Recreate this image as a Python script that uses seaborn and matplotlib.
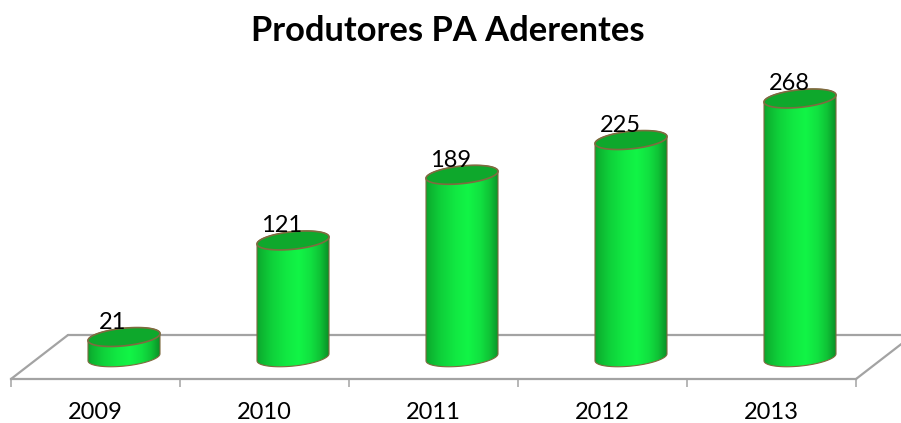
import numpy as np
import pandas as pd
import matplotlib
matplotlib.use("Agg")
import matplotlib.pyplot as plt
from matplotlib.colors import LinearSegmentedColormap
from matplotlib.patches import Polygon
from matplotlib.ticker import FixedLocator
from matplotlib.transforms import ScaledTranslation
import seaborn as sns

years = ["2009", "2010", "2011", "2012", "2013"]
produtores = [21, 121, 189, 225, 268]
title = "Produtores PA Aderentes"

W, H, DPI = 901, 423, 100
sns.set_theme(style="white")
plt.rcParams["font.family"] = ["Lato", "DejaVu Sans"]

fig = plt.figure(figsize=(W / DPI, H / DPI), dpi=DPI, facecolor="white")
# Axes: front edge of the floor is the x axis
ax = fig.add_axes([11 / W, (H - 379) / H, 845 / W, 379 / H])
PX_X, PX_Y = 169.0, 0.9656          # pixels per data unit

df = pd.DataFrame({"ano": years, "produtores": produtores})
sns.barplot(data=df, x="ano", y="produtores", width=72 / PX_X, ax=ax,
            color="#12F246", saturation=1, linewidth=0)
ax.set_xlim(-0.5, 4.5)
ax.set_ylim(0, 379 / PX_Y)

# 3D depth shift of the columns relative to the axis plane
shift = ScaledTranslation(28.5 / DPI, 21.7 / DPI, fig.dpi_scale_trans)
trans = ax.transData + shift

GRID = "#A3A3A3"
dx, dy = 57 / PX_X, 44 / PX_Y
floor = dict(color=GRID, lw=1.6, clip_on=False, zorder=1, solid_capstyle="round")
ax.plot([-0.5, -0.5 + dx], [0, dy], **floor)
ax.plot([4.5, 4.5 + dx], [0, dy], **floor)
ax.plot([-0.5 + dx, 4.5 + dx], [dy, dy], **floor)

cmap = LinearSegmentedColormap.from_list(
    "cyl", [(0, "#0CA32D"), (0.06, "#0DB531"), (0.2, "#0FD03A"), (0.4, "#11E842"),
            (0.58, "#12F546"), (0.75, "#11E040"), (0.88, "#0FC236"),
            (0.96, "#0CA12C"), (1, "#0A9027")])
grad = np.linspace(0, 1, 256).reshape(1, -1)

EDGE = "#7F6B3F"
A_X = 36.0 / PX_X
B_Y = 8.8 / PX_Y
SKEW = 3.5 / PX_Y


def arc(cx, cy, t):
    return np.column_stack([cx + A_X * np.cos(t),
                            cy + B_Y * np.sin(t) + SKEW * np.cos(t)])


for bar, value in zip(list(ax.patches), produtores):
    cx = bar.get_x() + bar.get_width() / 2
    v = bar.get_height()
    bar.set_visible(False)
    lower = arc(cx, 0, np.linspace(np.pi, 2 * np.pi, 60))
    upper = arc(cx, v, np.linspace(0, np.pi, 60))
    outline = np.vstack([lower, upper])
    body = Polygon(outline, closed=True, transform=trans,
                   facecolor="none", edgecolor=EDGE, lw=0.8, zorder=3)
    ax.add_patch(body)
    im = ax.imshow(grad, extent=(cx - A_X, cx + A_X, -20, v + 20), aspect="auto",
                   cmap=cmap, zorder=2, interpolation="bilinear")
    im.set_transform(trans)
    im.set_clip_path(Polygon(outline, closed=True, transform=trans))
    top = Polygon(arc(cx, v, np.linspace(0, 2 * np.pi, 120)), closed=True,
                  transform=trans, facecolor="#0EA82C", edgecolor=EDGE,
                  lw=1.2, zorder=4)
    ax.add_patch(top)
    ax.annotate(str(value), xy=(cx, v),
                xytext=(17.5 * 0.72, 36.5 * 0.72), textcoords="offset points",
                ha="center", va="center", fontsize=17, color="black", zorder=5,
                annotation_clip=False)

ax.set_xlim(-0.5, 4.5)
ax.set_ylim(0, 379 / PX_Y)

for s in ("top", "left", "right"):
    ax.spines[s].set_visible(False)
ax.spines["bottom"].set_color(GRID)
ax.spines["bottom"].set_linewidth(1.6)
ax.patch.set_alpha(0)
ax.set_yticks([])
ax.set_xlabel("")
ax.set_ylabel("")
ax.set_xticks(range(len(years)))
ax.set_xticklabels(years, fontsize=17, color="black")
ax.tick_params(axis="x", which="major", length=0, pad=16.5)
ax.xaxis.set_minor_locator(FixedLocator(np.arange(-0.5, 5, 1)))
ax.tick_params(axis="x", which="minor", bottom=True, length=5.8, width=1.1, color=GRID)

fig.text(447.5 / W, 1 - 31 / H, title, ha="center", va="center",
         fontsize=24.8, fontweight="bold", color="black")
fig.savefig("out.png", dpi=DPI, facecolor="white")
